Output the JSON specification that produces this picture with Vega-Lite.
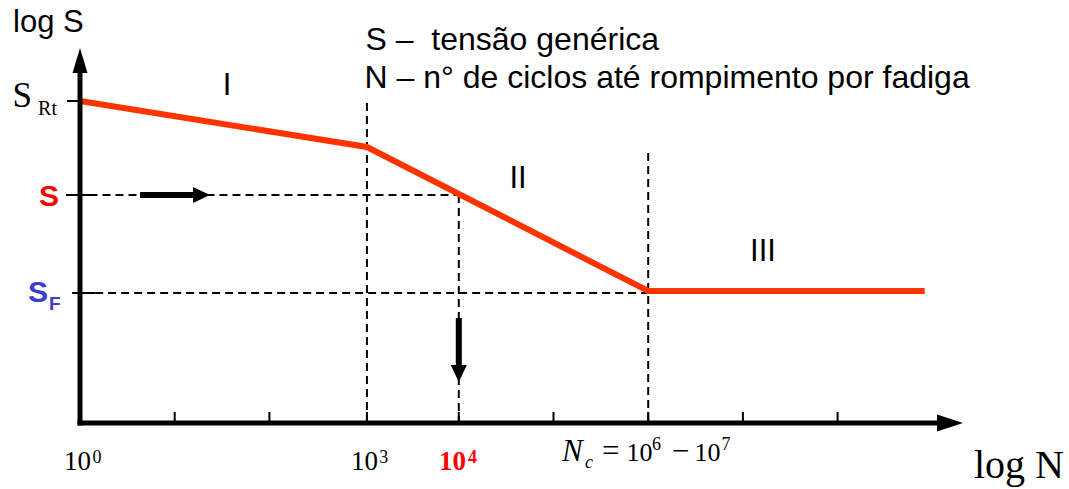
{
  "$schema": "https://vega.github.io/schema/vega-lite/v6.json",
  "width": 1069,
  "height": 489,
  "autosize": {"type": "none"},
  "padding": 0,
  "background": "white",
  "config": {"view": {"stroke": null}},
  "datasets": {
    "dashed": [
      {"x": 0.1, "y": 2.28, "x2": 4, "y2": 2.28},
      {"x": 0.16, "y": 1.30, "x2": 6, "y2": 1.30},
      {"x": 3.03, "y": 3.20, "x2": 3.03, "y2": 0},
      {"x": 4, "y": 2.28, "x2": 4, "y2": 0},
      {"x": 6, "y": 2.70, "x2": 6, "y2": 0}
    ],
    "axes": [
      {"x": 0, "y": 0, "x2": 0, "y2": 3.5},
      {"x": 0, "y": 0, "x2": 9.05, "y2": 0}
    ],
    "ticks": [
      {"x": -0.137, "y": 3.22, "x2": 0.13, "y2": 3.22},
      {"x": -0.148, "y": 2.28, "x2": 0.106, "y2": 2.28},
      {"x": -0.084, "y": 1.30, "x2": 0.158, "y2": 1.30},
      {"x": 1, "y": 0, "x2": 1, "y2": 0.11},
      {"x": 2, "y": 0, "x2": 2, "y2": 0.11},
      {"x": 3.03, "y": 0, "x2": 3.03, "y2": 0.11},
      {"x": 4, "y": 0, "x2": 4, "y2": 0.11},
      {"x": 5, "y": 0, "x2": 5, "y2": 0.11},
      {"x": 6, "y": 0, "x2": 6, "y2": 0.11},
      {"x": 7, "y": 0, "x2": 7, "y2": 0.11},
      {"x": 8, "y": 0, "x2": 8, "y2": 0.11}
    ],
    "shafts": [
      {"x": 0.634, "y": 2.28, "x2": 1.23, "y2": 2.28},
      {"x": 4, "y": 1.05, "x2": 4, "y2": 0.56}
    ],
    "curve": [
      {"x": 0, "y": 3.22},
      {"x": 3.03, "y": 2.76},
      {"x": 6, "y": 1.32},
      {"x": 8.92, "y": 1.32}
    ],
    "headUp": [{"x": 0, "y": 3.625}],
    "headRight": [{"x": 9.187, "y": 0}],
    "headS": [{"x": 1.283, "y": 2.28}],
    "headDown": [{"x": 4, "y": 0.495}],
    "txt": [
      {"role": "sansL", "t": "log S", "x": -0.7075, "y": 3.91},
      {"role": "legend", "t": "S – \u00a0tensão genérica", "x": 3.015, "y": 3.73},
      {"role": "legend", "t": "N – n° de ciclos até rompimento por fadiga", "x": 3.005, "y": 3.35},
      {"role": "sansC", "t": "I", "x": 1.552, "y": 3.28},
      {"role": "sansC", "t": "II", "x": 4.625, "y": 2.35},
      {"role": "sansC", "t": "III", "x": 7.212, "y": 1.62},
      {"role": "redS", "t": "S", "x": -0.433, "y": 2.17},
      {"role": "blueS", "t": "S", "x": -0.549, "y": 1.21},
      {"role": "blueSub", "t": "F", "x": -0.327, "y": 1.13},
      {"role": "serifBig", "t": "S", "x": -0.712, "y": 3.16},
      {"role": "serifSub", "t": "Rt", "x": -0.443, "y": 3.08},
      {"role": "tickBase", "t": "10", "x": -0.169, "y": -0.47},
      {"role": "tickBase", "t": "10", "x": 2.862, "y": -0.47},
      {"role": "tickSup", "t": "0", "x": 0.132, "y": -0.40},
      {"role": "tickSup", "t": "3", "x": 3.16, "y": -0.40},
      {"role": "redBase", "t": "10", "x": 3.791, "y": -0.47},
      {"role": "redSup", "t": "4", "x": 4.097, "y": -0.40},
      {"role": "logN", "t": "log N", "x": 9.44, "y": -0.55},
      {"role": "ital", "t": "N", "x": 5.09, "y": -0.38},
      {"role": "italSub", "t": "c", "x": 5.333, "y": -0.45},
      {"role": "eq", "t": "=", "x": 5.512, "y": -0.38},
      {"role": "eqNum", "t": "10", "x": 5.77, "y": -0.38},
      {"role": "eq", "t": "−", "x": 6.251, "y": -0.38},
      {"role": "eqNum", "t": "10", "x": 6.49, "y": -0.38},
      {"role": "eqSup", "t": "6", "x": 6.04, "y": -0.27},
      {"role": "eqSup", "t": "7", "x": 6.775, "y": -0.27}
    ]
  },
  "encoding": {
    "x": {"field": "x", "type": "quantitative", "scale": {"domain": [-0.84477, 10.4435], "nice": false, "zero": false}, "axis": null},
    "y": {"field": "y", "type": "quantitative", "scale": {"domain": [-0.66, 4.23], "nice": false, "zero": false}, "axis": null}
  },
  "layer": [
    {
      "data": {"name": "dashed"},
      "mark": {"type": "rule", "color": "black", "strokeWidth": 2, "strokeDash": [8, 5]},
      "encoding": {"x2": {"field": "x2"}, "y2": {"field": "y2"}}
    },
    {
      "data": {"name": "ticks"},
      "mark": {"type": "rule", "color": "black", "strokeWidth": 2},
      "encoding": {"x2": {"field": "x2"}, "y2": {"field": "y2"}}
    },
    {
      "data": {"name": "curve"},
      "mark": {"type": "line", "color": "#FF3300", "strokeWidth": 6, "strokeJoin": "miter"},
      "encoding": {}
    },
    {
      "data": {"name": "axes"},
      "mark": {"type": "rule", "color": "black", "strokeWidth": 5, "strokeCap": "square"},
      "encoding": {"x2": {"field": "x2"}, "y2": {"field": "y2"}}
    },
    {
      "data": {"name": "shafts"},
      "mark": {"type": "rule", "color": "black", "strokeWidth": 6},
      "encoding": {"x2": {"field": "x2"}, "y2": {"field": "y2"}}
    },
    {
      "data": {"name": "headUp"},
      "mark": {"type": "point", "filled": true, "color": "black", "opacity": 1, "strokeWidth": 0, "size": 625, "shape": "M0,-1L0.6,1L-0.6,1Z"}
    },
    {
      "data": {"name": "headRight"},
      "mark": {"type": "point", "filled": true, "color": "black", "opacity": 1, "strokeWidth": 0, "size": 676, "shape": "M1,0L-1,0.65L-1,-0.65Z"}
    },
    {
      "data": {"name": "headS"},
      "mark": {"type": "point", "filled": true, "color": "black", "opacity": 1, "strokeWidth": 0, "size": 289, "shape": "M1,0L-1,0.95L-1,-0.95Z"}
    },
    {
      "data": {"name": "headDown"},
      "mark": {"type": "point", "filled": true, "color": "black", "opacity": 1, "strokeWidth": 0, "size": 289, "shape": "M0,1L0.95,-1L-0.95,-1Z"}
    },
    {
      "data": {"name": "txt"},
      "transform": [{"filter": "datum.role === 'sansL'"}],
      "mark": {"type": "text", "font": "Liberation Sans", "fontSize": 31, "align": "left", "baseline": "alphabetic", "color": "black"},
      "encoding": {"text": {"field": "t", "type": "nominal"}}
    },
    {
      "data": {"name": "txt"},
      "transform": [{"filter": "datum.role === 'legend'"}],
      "mark": {"type": "text", "font": "Liberation Sans", "fontSize": 32, "align": "left", "baseline": "alphabetic", "color": "black"},
      "encoding": {"text": {"field": "t", "type": "nominal"}}
    },
    {
      "data": {"name": "txt"},
      "transform": [{"filter": "datum.role === 'sansC'"}],
      "mark": {"type": "text", "font": "Liberation Sans", "fontSize": 31, "align": "center", "baseline": "alphabetic", "color": "black"},
      "encoding": {"text": {"field": "t", "type": "nominal"}}
    },
    {
      "data": {"name": "txt"},
      "transform": [{"filter": "datum.role === 'redS'"}],
      "mark": {"type": "text", "font": "Liberation Sans", "fontSize": 30, "fontWeight": "bold", "align": "left", "baseline": "alphabetic", "color": "#FF0000"},
      "encoding": {"text": {"field": "t", "type": "nominal"}}
    },
    {
      "data": {"name": "txt"},
      "transform": [{"filter": "datum.role === 'blueS'"}],
      "mark": {"type": "text", "font": "Liberation Sans", "fontSize": 30, "fontWeight": "bold", "align": "left", "baseline": "alphabetic", "color": "#3C3CCF"},
      "encoding": {"text": {"field": "t", "type": "nominal"}}
    },
    {
      "data": {"name": "txt"},
      "transform": [{"filter": "datum.role === 'blueSub'"}],
      "mark": {"type": "text", "font": "Liberation Sans", "fontSize": 19, "fontWeight": "bold", "align": "left", "baseline": "alphabetic", "color": "#3C3CCF"},
      "encoding": {"text": {"field": "t", "type": "nominal"}}
    },
    {
      "data": {"name": "txt"},
      "transform": [{"filter": "datum.role === 'serifBig'"}],
      "mark": {"type": "text", "font": "Liberation Serif", "fontSize": 35, "align": "left", "baseline": "alphabetic", "color": "black"},
      "encoding": {"text": {"field": "t", "type": "nominal"}}
    },
    {
      "data": {"name": "txt"},
      "transform": [{"filter": "datum.role === 'serifSub'"}],
      "mark": {"type": "text", "font": "Liberation Serif", "fontSize": 20, "align": "left", "baseline": "alphabetic", "color": "black"},
      "encoding": {"text": {"field": "t", "type": "nominal"}}
    },
    {
      "data": {"name": "txt"},
      "transform": [{"filter": "datum.role === 'tickBase'"}],
      "mark": {"type": "text", "font": "Liberation Serif", "fontSize": 27, "align": "left", "baseline": "alphabetic", "color": "black"},
      "encoding": {"text": {"field": "t", "type": "nominal"}}
    },
    {
      "data": {"name": "txt"},
      "transform": [{"filter": "datum.role === 'tickSup'"}],
      "mark": {"type": "text", "font": "Liberation Serif", "fontSize": 18, "align": "left", "baseline": "alphabetic", "color": "black"},
      "encoding": {"text": {"field": "t", "type": "nominal"}}
    },
    {
      "data": {"name": "txt"},
      "transform": [{"filter": "datum.role === 'redBase'"}],
      "mark": {"type": "text", "font": "Liberation Serif", "fontSize": 27, "fontWeight": "bold", "align": "left", "baseline": "alphabetic", "color": "#FF0000"},
      "encoding": {"text": {"field": "t", "type": "nominal"}}
    },
    {
      "data": {"name": "txt"},
      "transform": [{"filter": "datum.role === 'redSup'"}],
      "mark": {"type": "text", "font": "Liberation Serif", "fontSize": 18, "fontWeight": "bold", "align": "left", "baseline": "alphabetic", "color": "#FF0000"},
      "encoding": {"text": {"field": "t", "type": "nominal"}}
    },
    {
      "data": {"name": "txt"},
      "transform": [{"filter": "datum.role === 'logN'"}],
      "mark": {"type": "text", "font": "Liberation Serif", "fontSize": 40, "align": "left", "baseline": "alphabetic", "color": "black"},
      "encoding": {"text": {"field": "t", "type": "nominal"}}
    },
    {
      "data": {"name": "txt"},
      "transform": [{"filter": "datum.role === 'ital'"}],
      "mark": {"type": "text", "font": "Liberation Serif", "fontSize": 31, "fontStyle": "italic", "align": "left", "baseline": "alphabetic", "color": "black"},
      "encoding": {"text": {"field": "t", "type": "nominal"}}
    },
    {
      "data": {"name": "txt"},
      "transform": [{"filter": "datum.role === 'italSub'"}],
      "mark": {"type": "text", "font": "Liberation Serif", "fontSize": 18, "fontStyle": "italic", "align": "left", "baseline": "alphabetic", "color": "black"},
      "encoding": {"text": {"field": "t", "type": "nominal"}}
    },
    {
      "data": {"name": "txt"},
      "transform": [{"filter": "datum.role === 'eq'"}],
      "mark": {"type": "text", "font": "Liberation Serif", "fontSize": 31, "align": "left", "baseline": "alphabetic", "color": "black"},
      "encoding": {"text": {"field": "t", "type": "nominal"}}
    },
    {
      "data": {"name": "txt"},
      "transform": [{"filter": "datum.role === 'eqNum'"}],
      "mark": {"type": "text", "font": "Liberation Serif", "fontSize": 26, "align": "left", "baseline": "alphabetic", "color": "black"},
      "encoding": {"text": {"field": "t", "type": "nominal"}}
    },
    {
      "data": {"name": "txt"},
      "transform": [{"filter": "datum.role === 'eqSup'"}],
      "mark": {"type": "text", "font": "Liberation Serif", "fontSize": 18, "align": "left", "baseline": "alphabetic", "color": "black"},
      "encoding": {"text": {"field": "t", "type": "nominal"}}
    }
  ]
}
